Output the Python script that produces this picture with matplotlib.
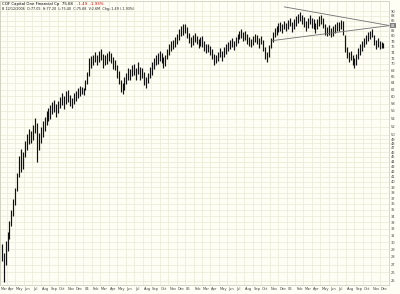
import matplotlib
matplotlib.use('Agg')
import pandas as pd
from matplotlib import pyplot as plt
from matplotlib import transforms

BG = '#fefef4'
GRID = '#e9e9d6'

TITLE = 'COF Capital One Financial Cp  75.68'
CHANGE = '-1.49  -1.93%'
DETAILS = 'B 12/12/2006  O:77.05  H:77.20  L:75.40  C:75.68  V:2.6M  Chg:-1.49 (-1.93%)'

# weekly ranges, first week ends 2003-03-14
lows_2003 = [27.5, 24.9, 27.0,
             28.8, 30.5, 32.4, 34.0,
             35.8, 38.2, 41.0, 42.0, 42.5,
             45.0, 46.5, 47.8, 48.2,
             48.8, 50.5, 44.0, 46.5,
             48.0, 49.5, 51.0, 52.5, 53.5,
             54.0, 55.2, 55.8, 54.5,
             55.5, 56.8, 57.5, 56.5, 58.0,
             58.5, 57.2, 56.8, 58.0,
             58.8, 59.5, 60.2, 60.8]
highs_2003 = [29.8, 28.5, 30.2,
              31.5, 33.2, 35.0, 36.8,
              38.9, 41.8, 45.2, 46.8, 46.0,
              48.5, 50.2, 51.4, 51.0,
              52.5, 54.2, 53.0, 50.5,
              51.8, 53.5, 54.5, 56.0, 56.8,
              57.5, 58.4, 59.0, 58.0,
              58.6, 59.8, 61.0, 60.2, 61.5,
              61.8, 60.5, 59.6, 61.0,
              61.6, 62.3, 63.0, 62.8]
lows_2004 = [60.5, 61.8, 63.5, 66.0, 68.8,
             69.5, 70.6, 69.8, 70.8,
             71.2, 68.8, 69.5, 70.0,
             71.0, 70.2, 68.5, 68.0, 65.5,
             63.5, 61.2, 60.8, 62.0,
             63.5, 65.0, 64.8, 66.2,
             66.5, 65.0, 66.8, 64.8, 65.5,
             63.2, 62.5, 64.0, 65.6,
             66.5, 68.2, 69.5, 70.0,
             71.0, 70.2, 68.8, 69.2, 71.5,
             73.0, 74.5, 75.2, 76.0,
             77.0, 78.5, 80.0, 80.5, 81.2]
highs_2004 = [62.5, 64.8, 67.5, 72.0, 72.8,
              73.2, 74.2, 73.2, 74.4,
              75.2, 73.5, 73.0, 73.8,
              74.6, 73.6, 72.4, 71.4, 69.8,
              67.8, 65.0, 64.0, 65.8,
              67.2, 68.8, 68.2, 69.8,
              69.9, 68.6, 70.6, 69.0, 68.8,
              67.5, 65.8, 67.2, 69.0,
              70.5, 72.0, 73.2, 73.8,
              74.5, 73.6, 72.5, 73.0, 75.2,
              76.8, 78.0, 78.6, 79.4,
              80.8, 82.5, 83.8, 84.6, 84.8]
lows_2005 = [79.0, 77.2, 76.0, 76.5,
             77.8, 76.8, 75.5, 76.2,
             76.0, 74.5, 73.8, 74.2,
             73.0, 71.5, 69.5, 70.2, 71.0,
             72.2, 71.0, 72.5, 73.5,
             74.5, 75.2, 76.0, 74.8,
             76.2, 77.5, 78.8, 79.2, 78.0,
             78.5, 77.0, 76.2, 75.8,
             76.5, 77.8, 76.8, 75.5, 77.0,
             74.5, 71.8, 70.5, 72.5,
             75.5, 77.8, 79.5, 80.5,
             81.5, 82.0, 81.0, 82.5, 82.0]
highs_2005 = [83.5, 81.0, 79.5, 80.2,
              81.2, 80.0, 78.8, 79.5,
              79.8, 78.2, 77.0, 76.8,
              76.2, 75.0, 73.5, 73.0, 74.2,
              75.5, 74.6, 75.8, 76.8,
              77.8, 78.5, 79.2, 78.0,
              79.5, 80.8, 82.0, 82.8, 81.5,
              81.8, 80.6, 79.5, 78.8,
              79.8, 80.8, 80.2, 79.0, 80.0,
              78.5, 75.8, 74.0, 76.5,
              79.2, 81.5, 83.2, 84.0,
              85.0, 85.6, 84.8, 86.0, 85.2]
lows_2006 = [82.5, 83.8, 81.5, 82.8,
             84.0, 85.2, 86.0, 84.8,
             83.5, 82.0, 83.2, 84.5, 83.0,
             82.5, 81.0, 82.8, 84.0,
             84.8, 83.0, 80.5, 79.8,
             80.5, 79.5, 80.0, 81.2, 82.0,
             82.0, 82.8, 80.5, 74.0,
             72.0, 70.5, 71.2, 69.5,
             68.8, 69.5, 71.5, 73.0, 74.5,
             75.8, 77.0, 78.2, 78.8,
             79.5, 76.5, 75.0, 76.0,
             75.2, 75.5, 75.4]
highs_2006 = [86.2, 87.0, 85.5, 86.5,
              87.8, 88.8, 89.5, 88.5,
              87.5, 86.0, 87.0, 88.2, 87.2,
              86.5, 85.2, 86.8, 87.8,
              88.5, 87.2, 84.8, 83.5,
              84.2, 83.0, 83.8, 84.5, 85.5,
              85.5, 86.2, 86.0, 80.5,
              76.0, 74.0, 74.5, 73.0,
              72.0, 73.5, 75.5, 76.8, 78.0,
              79.2, 80.5, 81.5, 82.0,
              82.6, 80.5, 78.5, 79.2,
              78.2, 77.8, 77.2]
LAST_DAY = '2006-12-12'

PRICE_TICKS = list(range(25, 51)) + list(range(52, 91, 2))

UPPER_TREND_DATES = ['2005-12-23', '2007-01-05']
UPPER_TREND_PRICES = [91.8, 84.0]
LOWER_TREND_DATES = ['2005-11-09', '2007-01-05']
LOWER_TREND_PRICES = [78.2, 84.0]
TREND_LABEL = '84'


def month_label(day):
    if day.month == 1:
        return day.strftime('%y')
    return day.strftime('%b')


def main():
    lows = lows_2003 + lows_2004 + lows_2005 + lows_2006
    highs = highs_2003 + highs_2004 + highs_2005 + highs_2006
    weeks = pd.date_range('2003-03-14', '2006-12-08', freq='W-FRI')
    weeks = weeks.append(pd.DatetimeIndex([LAST_DAY]))
    assert len(weeks) == len(lows) == len(highs)

    fig = plt.figure(figsize=(4.0, 2.94), dpi=100)
    fig.patch.set_facecolor(BG)
    ax = fig.add_axes([0.0, 9 / 294, 389 / 400, 284 / 294])
    ax.set_facecolor(BG)
    ax.set_yscale('log')
    ax.set_ylim(24.5, 94.4)
    ax.set_xlim(pd.Timestamp('2003-03-08'), pd.Timestamp('2007-01-03'))

    # price axis on the right, one label per grid line
    ax.yaxis.tick_right()
    ax.set_yticks(PRICE_TICKS)
    ax.set_yticklabels([str(t) for t in PRICE_TICKS])
    ax.yaxis.set_minor_locator(matplotlib.ticker.NullLocator())
    ax.tick_params(axis='y', length=0, pad=1.5, labelsize=2.6,
                   labelcolor='#444444')

    months = list(pd.date_range('2003-04-01', '2006-12-01', freq='MS'))
    ticks = [pd.Timestamp('2003-03-08')] + months
    ax.set_xticks(ticks)
    ax.set_xticklabels(['Mar'] + [month_label(m) for m in months])
    ax.tick_params(axis='x', length=0, pad=1.5, labelsize=2.6,
                   labelcolor='#444444')
    shift = transforms.ScaledTranslation(1 / 100, 0, fig.dpi_scale_trans)
    for lbl in ax.get_xticklabels():
        lbl.set_ha('left')
        lbl.set_transform(lbl.get_transform() + shift)

    ax.grid(True, color=GRID, lw=0.5)
    ax.set_axisbelow(True)
    for spine in ax.spines.values():
        spine.set_color('#c8c8b8')
        spine.set_linewidth(0.5)

    ax.vlines(weeks, lows, highs, color='#111111', lw=0.85)

    ax.plot(pd.to_datetime(UPPER_TREND_DATES), UPPER_TREND_PRICES,
            color='#707070', lw=0.6, clip_on=False)
    ax.plot(pd.to_datetime(LOWER_TREND_DATES), LOWER_TREND_PRICES,
            color='#707070', lw=0.6, clip_on=False)
    ax.annotate(TREND_LABEL, xy=(1.0, UPPER_TREND_PRICES[-1]),
                xycoords=ax.get_yaxis_transform(), xytext=(1.5, 0),
                textcoords='offset points', va='center', ha='left',
                fontsize=2.6, color='white',
                bbox=dict(boxstyle='square,pad=0.2', fc='#808080', ec='none'),
                annotation_clip=False)

    title = ax.text(0.004, 0.996, TITLE, transform=ax.transAxes,
                    fontsize=2.8, va='top', ha='left', color='black')
    ax.annotate(CHANGE, xy=(1, 0), xycoords=title, xytext=(3, 0),
                textcoords='offset points', fontsize=2.8, va='bottom',
                ha='left', color='#e00000')
    ax.text(0.004, 0.978, DETAILS, transform=ax.transAxes,
            fontsize=2.4, va='top', ha='left', color='#222222')

    fig.savefig('out.png', dpi=100, facecolor=BG)


if __name__ == '__main__':
    main()
